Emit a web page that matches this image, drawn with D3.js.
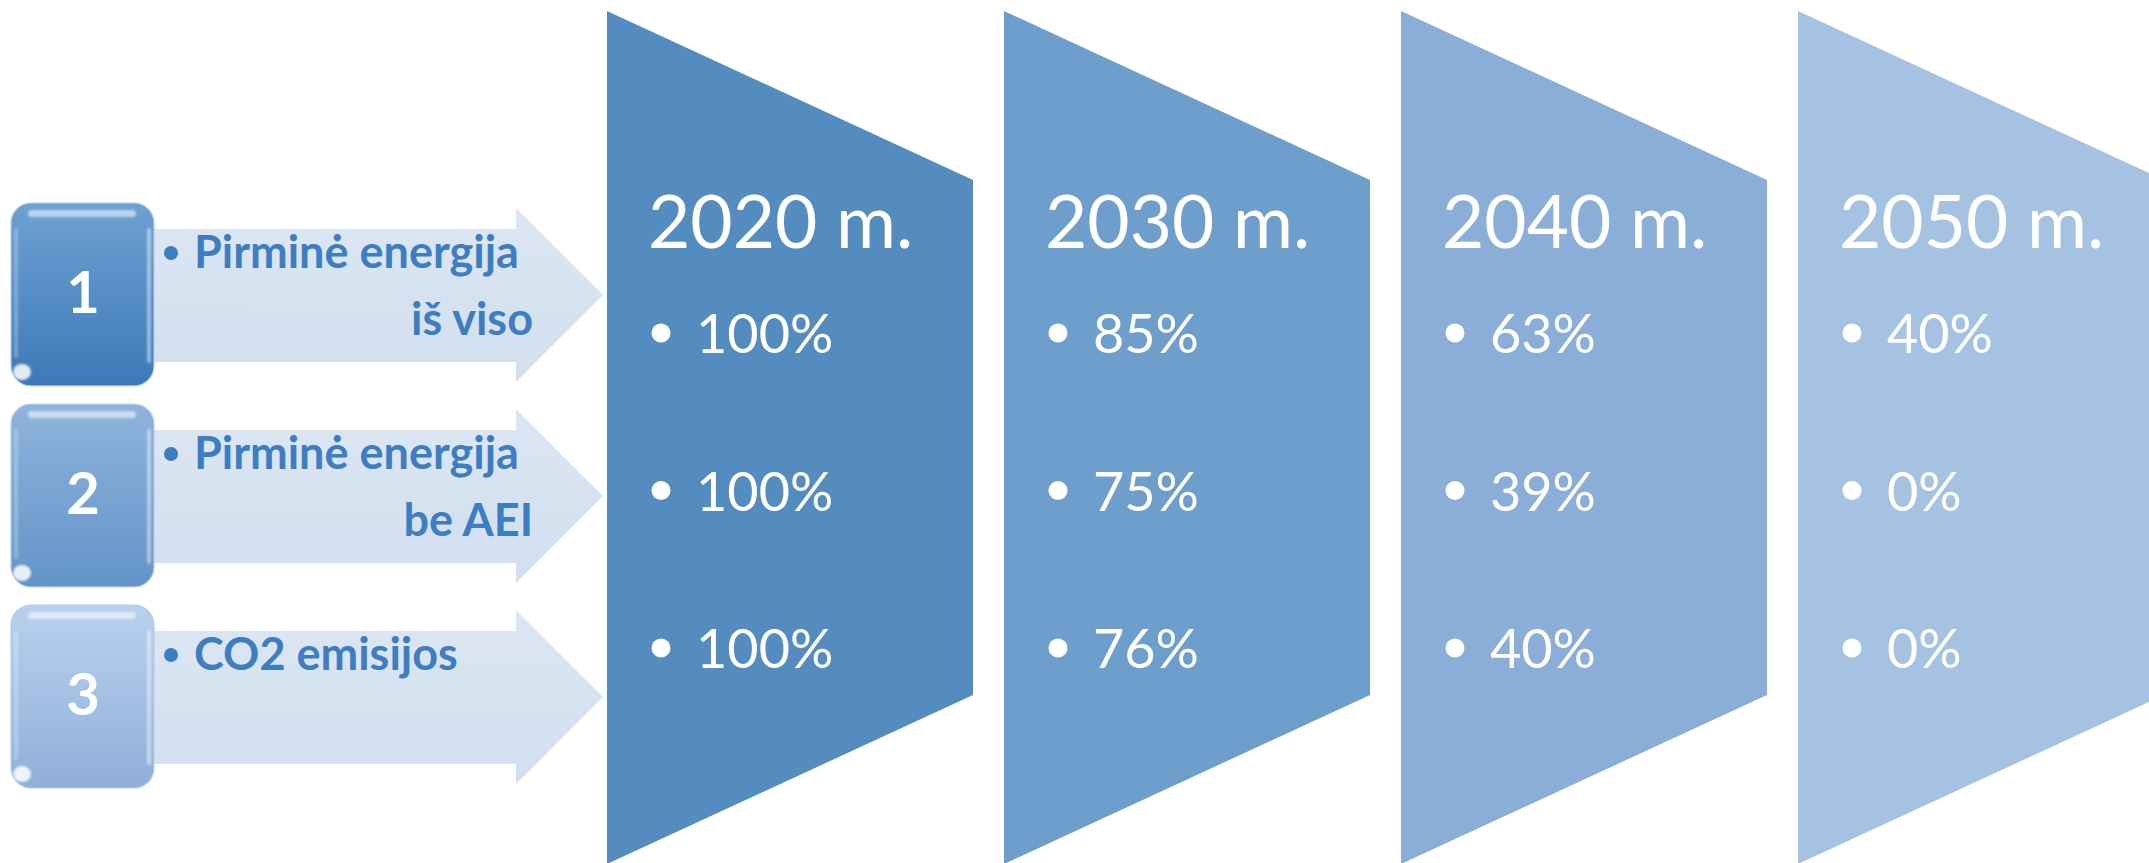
<!DOCTYPE html>
<html><head><meta charset="utf-8">
<script src="https://cdn.jsdelivr.net/npm/d3@7"></script>
<style>html,body{margin:0;padding:0;background:#fff;overflow:hidden}</style>
</head><body>
<svg id="chart" width="2149" height="863"></svg>
<script>
// ---- data ----
const years = ["2020 m.", "2030 m.", "2040 m.", "2050 m."];
const categories = ["Pirminė energija iš viso", "Pirminė energija be AEI", "CO2 emisijos"];
const categoryLines = [["Pirminė energija", "iš viso"], ["Pirminė energija", "be AEI"], ["CO2 emisijos"]];
const categoryNumbers = ["1", "2", "3"];
const primaryTotal = [100, 85, 63, 40];
const primaryNoRes = [100, 75, 39, 0];
const co2Emissions = [100, 76, 40, 0];
const series = [primaryTotal, primaryNoRes, co2Emissions];

// ---- styles ----
const shapeColors = ["#558CC0", "#6E9ECC", "#8AAED7", "#A6C2E3"];
const squareGrad = [["#6FA1D2", "#3C79B8"], ["#8FB3DC", "#6494C8"], ["#B9D1EE", "#8FAFD9"]];
const labelColor = "#3D7DC1";
const fontMain = "Lato, 'Open Sans', 'Noto Sans', sans-serif";

const svg = d3.select("#chart");
const defs = svg.append("defs");

// ---- scales ----
const x = d3.scaleBand().domain(years).range([607, 2164]).paddingInner(0.078).paddingOuter(0);
const yVal = d3.scalePoint().domain(categories).range([353, 668]);
const yRow = d3.scaleBand().domain(categories).range([203, 788]).paddingInner(0.09).paddingOuter(0);
const fmt = v => v + "%";

// ---- filters / gradients ----
const blur2 = defs.append("filter").attr("id", "blur2").attr("x", "-50%").attr("y", "-50%").attr("width", "200%").attr("height", "200%");
blur2.append("feGaussianBlur").attr("stdDeviation", 1.2);

squareGrad.forEach((g, i) => {
  const lg = defs.append("linearGradient").attr("id", "sq" + i).attr("x1", 0).attr("y1", 0).attr("x2", 0).attr("y2", 1);
  lg.append("stop").attr("offset", "0%").attr("stop-color", g[0]);
  lg.append("stop").attr("offset", "100%").attr("stop-color", g[1]);
});
const ag = defs.append("linearGradient").attr("id", "arrowGrad").attr("x1", 0).attr("y1", 0).attr("x2", 0).attr("y2", 1);
ag.append("stop").attr("offset", "0%").attr("stop-color", "#DCE6F3");
ag.append("stop").attr("offset", "100%").attr("stop-color", "#D3DFEF");

// ---- year columns ----
const bw = x.bandwidth();
const yTop = 11, yBot = 864, slant = 169;
const cols = svg.append("g").selectAll("g").data(years).join("g");
cols.append("path")
  .attr("d", d => {
    const x0 = x(d), x1 = x0 + bw;
    return `M${x0},${yTop}L${x1},${yTop + slant}L${x1},${yBot - slant}L${x0},${yBot}Z`;
  })
  .attr("fill", (d, i) => shapeColors[i]);
cols.append("text")
  .attr("x", d => x(d) + 41).attr("y", 248)
  .attr("font-family", fontMain).attr("font-size", 73).attr("fill", "#fff")
  .text(d => d);

categories.forEach((c, ci) => {
  const g = svg.append("g");
  g.selectAll("circle").data(years).join("circle")
    .attr("cx", d => x(d) + 54).attr("cy", yVal(c) - 20).attr("r", 9.5).attr("fill", "#fff");
  g.selectAll("text").data(series[ci]).join("text")
    .attr("x", (d, i) => x(years[i]) + 89).attr("y", yVal(c))
    .attr("font-family", fontMain).attr("font-size", 54).attr("fill", "#fff")
    .text(fmt);
});

// ---- left side: arrows, squares, labels ----
categories.forEach((c, i) => {
  const sy = yRow(c);
  const g = svg.append("g");
  // arrow
  g.append("path")
    .attr("d", `M148,${sy + 26}L516,${sy + 26}L516,${sy + 5}L603,${sy + 92}L516,${sy + 179}L516,${sy + 159}L148,${sy + 159}Z`)
    .attr("fill", "url(#arrowGrad)");
  // square
  const sq = g.append("g");
  sq.append("rect").attr("x", 11).attr("y", sy).attr("width", 143).attr("height", yRow.bandwidth())
    .attr("rx", 20).attr("fill", "url(#sq" + i + ")").attr("stroke", "#B8CDE6").attr("stroke-width", 1.2);
  sq.append("rect").attr("x", 28).attr("y", sy + 7).attr("width", 108).attr("height", 7).attr("rx", 3.5)
    .attr("fill", "#fff").attr("opacity", 0.55).attr("filter", "url(#blur2)");
  sq.append("rect").attr("x", 14).attr("y", sy + 25).attr("width", 4).attr("height", 130).attr("rx", 2)
    .attr("fill", "#fff").attr("opacity", 0.25).attr("filter", "url(#blur2)");
  sq.append("rect").attr("x", 147).attr("y", sy + 25).attr("width", 4).attr("height", 135).attr("rx", 2)
    .attr("fill", "#fff").attr("opacity", 0.45).attr("filter", "url(#blur2)");
  sq.append("ellipse").attr("cx", 22).attr("cy", sy + 169).attr("rx", 9).attr("ry", 8)
    .attr("fill", "#fff").attr("opacity", 0.85).attr("filter", "url(#blur2)");
  sq.append("text").attr("x", 83).attr("y", sy + 110).attr("text-anchor", "middle")
    .attr("font-family", fontMain).attr("font-weight", 700).attr("font-size", 58).attr("fill", "#fff")
    .text(categoryNumbers[i]);
  // labels
  const lines = categoryLines[i];
  g.append("circle").attr("cx", 171).attr("cy", sy + 50).attr("r", 7).attr("fill", labelColor);
  g.append("text").attr("x", 194).attr("y", sy + 65)
    .attr("font-family", fontMain).attr("font-weight", 700).attr("font-size", 45).attr("fill", labelColor)
    .text(lines[0]);
  if (lines[1]) {
    g.append("text").attr("x", 533).attr("y", sy + 132).attr("text-anchor", "end")
      .attr("font-family", fontMain).attr("font-weight", 700).attr("font-size", 45).attr("fill", labelColor)
      .text(lines[1]);
  }
});
</script>
</body></html>
